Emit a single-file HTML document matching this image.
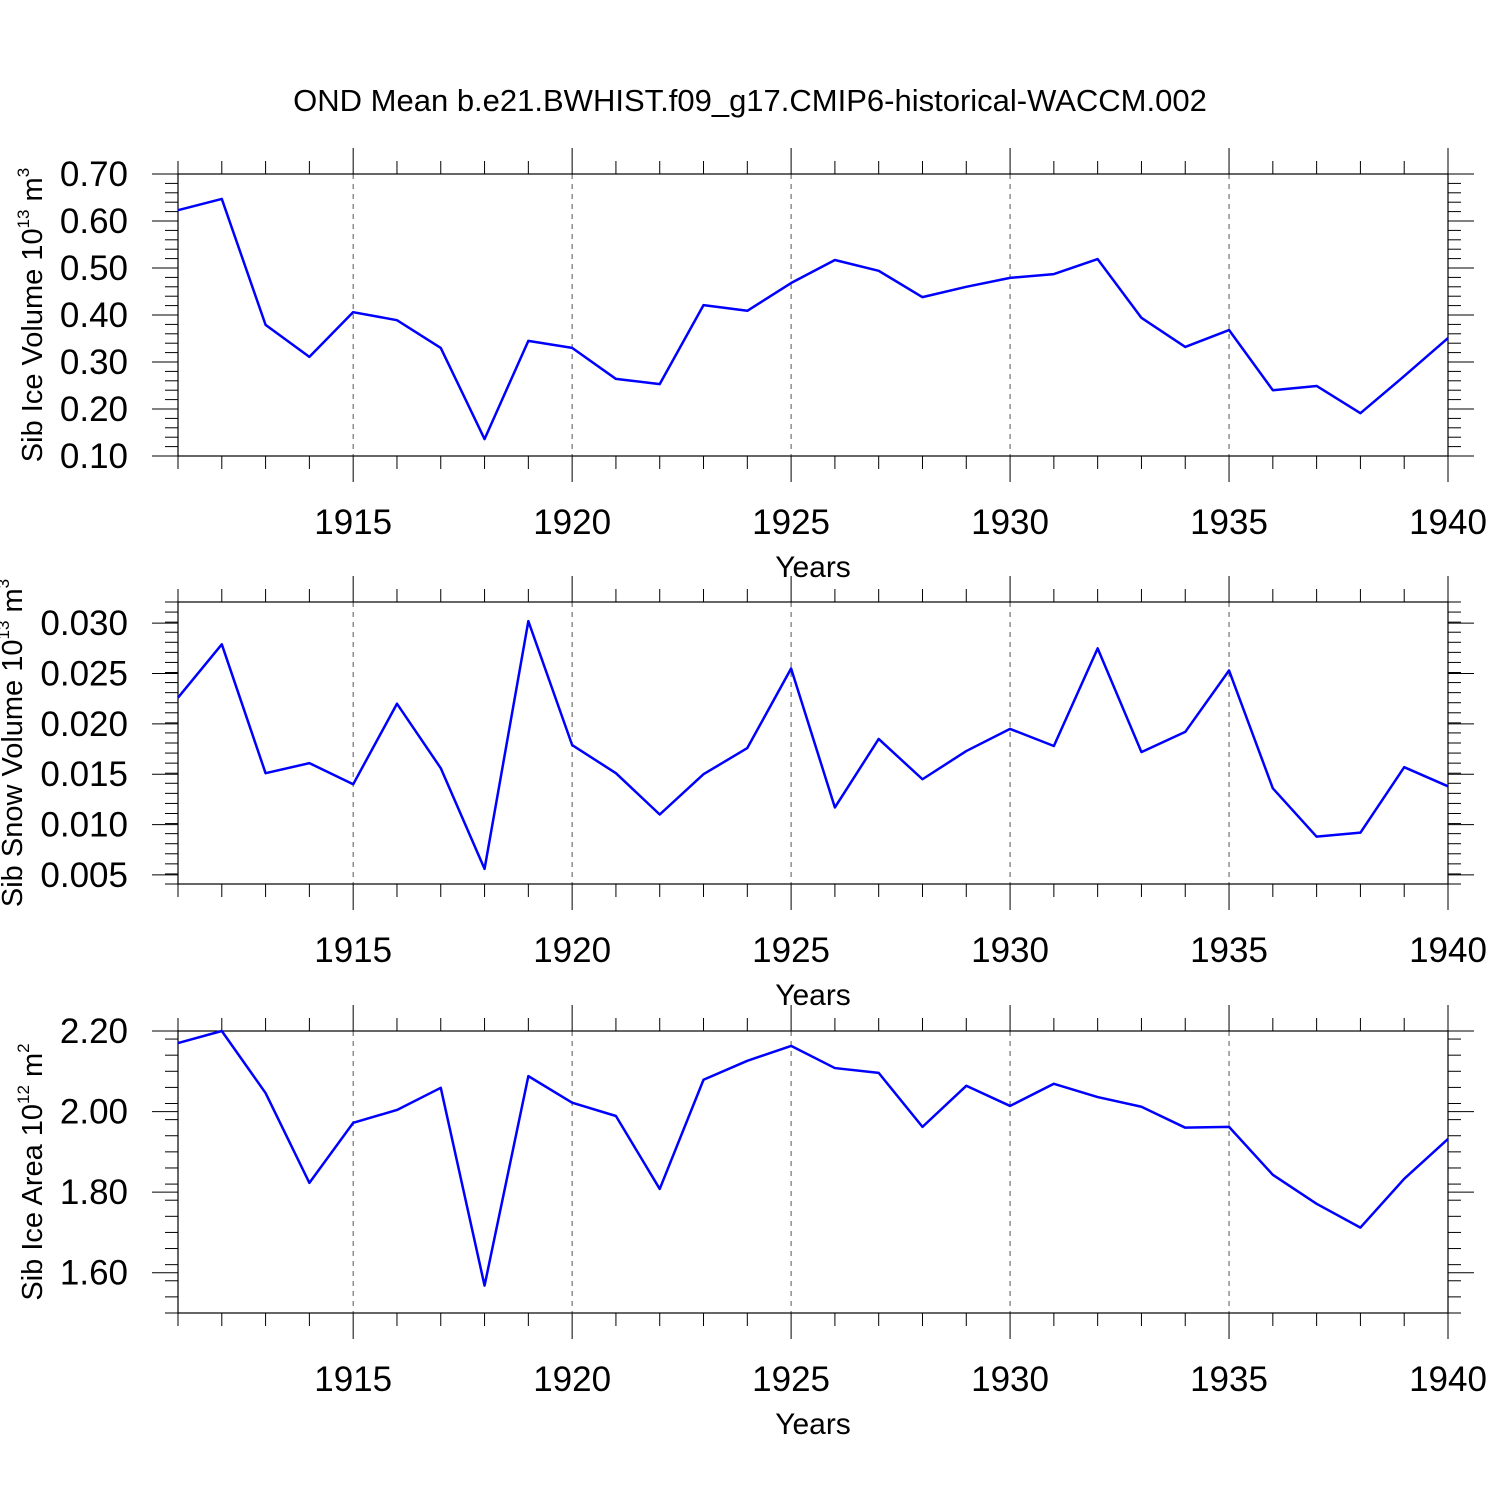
<!DOCTYPE html>
<html><head><meta charset="utf-8"><style>
body{margin:0;background:#fff}
svg{display:block;font-family:"Liberation Sans",Arial,sans-serif}
</style></head><body>
<svg id="chart" width="1500" height="1500" viewBox="0 0 1500 1500" xmlns="http://www.w3.org/2000/svg">
<text x="750" y="111" font-size="31" text-anchor="middle">OND Mean b.e21.BWHIST.f09_g17.CMIP6-historical-WACCM.002</text>
</svg>
<script>
const years=[1911,1912,1913,1914,1915,1916,1917,1918,1919,1920,1921,1922,1923,1924,1925,1926,1927,1928,1929,1930,1931,1932,1933,1934,1935,1936,1937,1938,1939,1940];
const xTickYears=[1915,1920,1925,1930,1935,1940];
const iceVolume=[0.623,0.647,0.379,0.311,0.406,0.389,0.330,0.136,0.345,0.330,0.264,0.253,0.421,0.409,0.468,0.517,0.494,0.438,0.460,0.479,0.487,0.519,0.394,0.332,0.368,0.240,0.249,0.191,0.270,0.351];
const snowVolume=[0.0226,0.0279,0.0151,0.0161,0.0140,0.0220,0.0156,0.0056,0.0302,0.0179,0.0151,0.0110,0.0150,0.0176,0.0255,0.0117,0.0185,0.0145,0.0173,0.0195,0.0178,0.0275,0.0172,0.0192,0.0253,0.0136,0.0088,0.0092,0.0157,0.0138];
const iceArea=[2.170,2.200,2.046,1.823,1.972,2.004,2.059,1.568,2.088,2.022,1.989,1.808,2.079,2.126,2.163,2.108,2.096,1.962,2.064,2.014,2.069,2.036,2.012,1.960,1.962,1.843,1.771,1.712,1.833,1.932];
const iceVolTicks=[0.10,0.20,0.30,0.40,0.50,0.60,0.70];
const snowTicks=[0.005,0.010,0.015,0.020,0.025,0.030];
const areaTicks=[1.60,1.80,2.00,2.20];

const NS="http://www.w3.org/2000/svg";
const svg=document.getElementById('chart');
function el(t,a,p){const e=document.createElementNS(NS,t);for(const k in a)e.setAttribute(k,a[k]);(p||svg).appendChild(e);return e;}
const X0=178,X1=1448;
function xs(y){return X0+(y-1911)/(1940-1911)*(X1-X0);}

function panel(name,top,ymin,ymax,ticks,minorStep,dec,vals,titleParts,titleX){
  const bot=top+282;
  const ys=v=>bot-(v-ymin)/(ymax-ymin)*282;
  const g=el('g',{});
  
  
  xTickYears.forEach(y=>{if(y<1940){const l=el('line',{x1:xs(y),x2:xs(y),y1:top,y2:bot,stroke:'#555','stroke-width':1,'stroke-dasharray':'5,5'},g);
    
    }});
  const fr=el('rect',{x:X0,y:top,width:X1-X0,height:282,fill:'none',stroke:'#000','stroke-width':1.2},g);
  
  
  years.forEach(y=>{const maj=xTickYears.includes(y);const L=maj?26:13;const x=xs(y);
    el('line',{x1:x,x2:x,y1:top,y2:top-L,stroke:'#000','stroke-width':1},g);
    el('line',{x1:x,x2:x,y1:bot,y2:bot+L,stroke:'#000','stroke-width':1},g);});
  xTickYears.forEach(y=>{const t=el('text',{x:xs(y),y:bot+78,'font-size':35,'text-anchor':'middle'},g);t.textContent=y;
    
    });
  const xt=el('text',{x:813,y:bot+121,'font-size':30,'text-anchor':'middle'},g);xt.textContent='Years';
  
  
  const n=Math.round((ymax-ymin)/minorStep);
  for(let i=0;i<=n;i++){const v=ymin+i*minorStep;const yy=ys(v);if(yy<top-0.5||yy>bot+0.5)continue;
    el('line',{x1:X0,x2:X0-13,y1:yy,y2:yy,stroke:'#000','stroke-width':1},g);
    el('line',{x1:X1,x2:X1+13,y1:yy,y2:yy,stroke:'#000','stroke-width':1},g);}
  ticks.forEach(v=>{const yy=ys(v);
    el('line',{x1:X0,x2:X0-26,y1:yy,y2:yy,stroke:'#000','stroke-width':1},g);
    el('line',{x1:X1,x2:X1+26,y1:yy,y2:yy,stroke:'#000','stroke-width':1},g);
    const t=el('text',{x:128,y:yy+12,'font-size':35,'text-anchor':'end'},g);t.textContent=v.toFixed(dec);
    
    });
  const cy=top+141;
  const yt=el('text',{x:0,y:0,'font-size':29,'text-anchor':'middle',transform:`translate(${titleX},${cy}) rotate(-90)`},g);
  
  
  const t1=el('tspan',{},yt);t1.textContent=titleParts[0];
  const t2=el('tspan',{'font-size':17,dy:-13},yt);t2.textContent=titleParts[1];
  const t3=el('tspan',{dy:13},yt);t3.textContent=' m';
  const t4=el('tspan',{'font-size':17,dy:-13},yt);t4.textContent=titleParts[2];
  const pts=years.map((y,i)=>xs(y)+','+ys(vals[i])).join(' ');
  const pl=el('polyline',{points:pts,fill:'none',stroke:'#0000ff','stroke-width':2.5,'stroke-linejoin':'round'},g);
  
  
}
panel('ice-volume',174,0.10,0.70,iceVolTicks,0.02,2,iceVolume,['Sib Ice Volume 10','13','3'],42);
panel('snow-volume',602,0.0041,0.0321,snowTicks,0.001,3,snowVolume,['Sib Snow Volume 10','13','3'],22);
panel('ice-area',1031,1.50,2.20,areaTicks,0.04,2,iceArea,['Sib Ice Area 10','12','2'],42);
</script>
</body></html>
